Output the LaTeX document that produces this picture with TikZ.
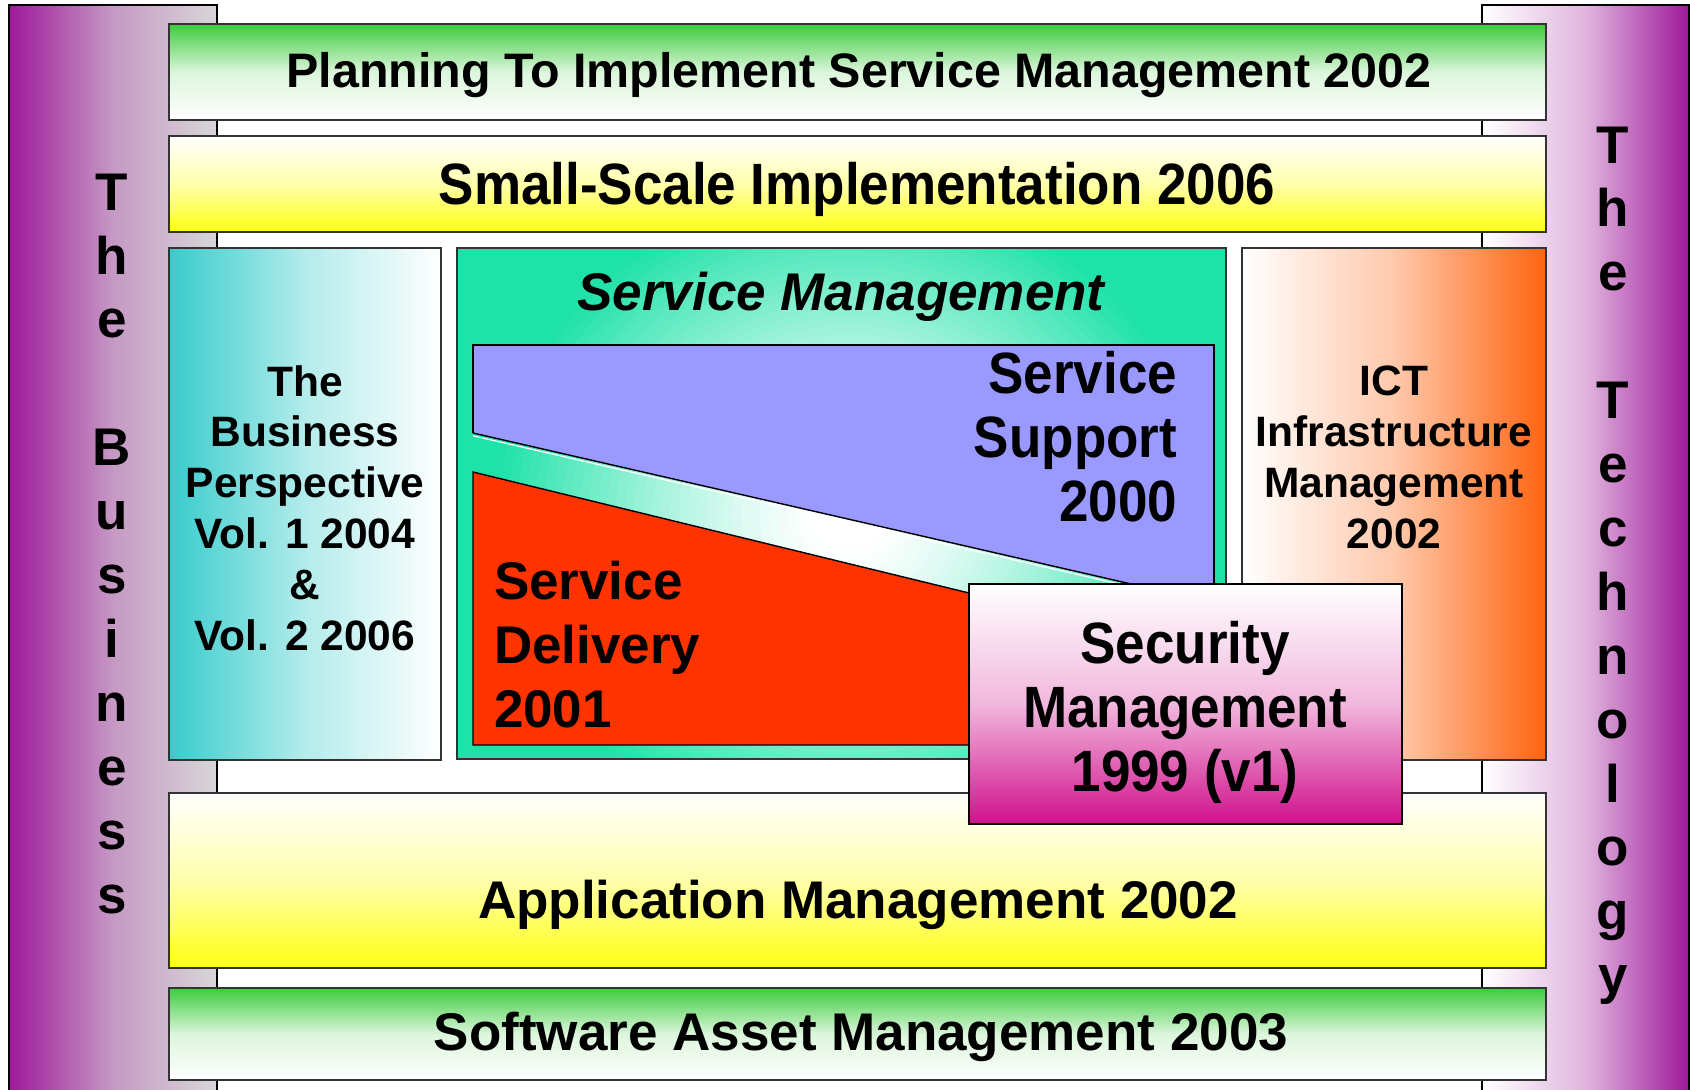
\documentclass[tikz,border=0pt]{standalone}
\usepackage{fontspec}
\setmainfont{Liberation Sans}
\usepackage{graphicx}
\definecolor{bizpurple}{RGB}{158,24,154}
\definecolor{bizgrey}{RGB}{216,214,216}
\definecolor{plangreen}{RGB}{60,204,60}
\definecolor{impyellow}{RGB}{255,255,16}
\definecolor{bpcyan}{RGB}{56,204,204}
\definecolor{ictorange}{RGB}{255,100,16}
\definecolor{ssblue}{RGB}{153,153,255}
\definecolor{sdred}{RGB}{255,51,0}
\definecolor{smteal}{RGB}{30,226,168}
\definecolor{secmagenta}{RGB}{208,16,140}
\newcommand{\tallx}[1]{\scalebox{1}[1.1]{#1}}
\begin{document}
\begin{tikzpicture}[x=1pt,y=-1pt,
  every node/.style={inner sep=0pt, outer sep=0pt},
  sidebar/.style={draw=black, line width=1.6pt, rectangle, anchor=north west},
  panel/.style={draw=black!80, line width=1.6pt, rectangle, anchor=north west},
  txt/.style={text=black, font=\bfseries\fontsize{53}{64}\selectfont},
  smalltxt/.style={text=black, font=\bfseries\fontsize{42.5}{50.8}\selectfont, align=center},
  vletters/.style={text=black, font=\bfseries\fontsize{53}{63.9}\selectfont, align=center, anchor=base},
  shapeline/.style={draw=black, line width=1.4pt}
]
\useasboundingbox (0,0) rectangle (1690,1090);
\fill[white] (0,0) rectangle (1690,1090);

% side bars
\node[sidebar, minimum width=208pt, minimum height=1090pt, left color=bizpurple, right color=bizgrey, middle color=bizgrey!68!bizpurple] (busbar) at (9,5) {};
\node[sidebar, minimum width=207pt, minimum height=1090pt, left color=white, right color=bizpurple, middle color=bizpurple!32!white] (techbar) at (1482,5) {};
% multi-line nodes: base anchor = baseline of the last line
\node[vletters] (busword) at (112,913) {T\\h\\e\\\mbox{}\\B\\u\\s\\i\\n\\e\\s\\s};
\node[vletters] (techword) at (1613,993.7) {T\\h\\e\\\mbox{}\\T\\e\\c\\h\\n\\o\\l\\o\\g\\y};

% horizontal bands
\node[panel, minimum width=1377pt, minimum height=96pt, top color=plangreen, bottom color=white, middle color=plangreen!18!white] (plan) at (169,24) {};
\node[txt, font=\bfseries\fontsize{48.4}{58}\selectfont, anchor=base] (plantext) at (859,87) {Planning To Implement Service Management 2002};

\node[panel, minimum width=1377pt, minimum height=96pt, top color=white, bottom color=impyellow, middle color=impyellow!35!white] (small) at (169,136) {};
\node[txt, anchor=base] (smalltext) at (857,204) {\tallx{Small-Scale Implementation 2006}};

% business perspective
\node[panel, minimum width=272pt, minimum height=512pt, left color=bpcyan, right color=white, middle color=bpcyan!38!white] (bp) at (169,248) {};
\node[smalltxt, anchor=base] (bptext) at (305,650) {The\\Business\\Perspective\\Vol. 1 2004\\\&\\Vol. 2 2006};

% ICT
\node[panel, minimum width=304pt, minimum height=512pt, left color=white, right color=ictorange, middle color=ictorange!35!white] (ict) at (1242,248) {};
\node[smalltxt, anchor=base] (icttext) at (1394,548) {ICT\\Infrastructure\\Management\\2002};

% service management
\node[panel, minimum width=769pt, minimum height=511pt, fill=smteal] (sm) at (457,248) {};
\begin{scope}
  \clip (sm.north west) rectangle (sm.south east);
  \foreach \k in {40,39,...,1} {
    \pgfmathsetmacro{\rr}{\k/40}
    \pgfmathsetmacro{\pp}{100*pow(max((\rr-0.1)/0.9,0.0001),1.3)}
    \fill[smteal!\pp!white] (850,515) ellipse [x radius=360*\rr, y radius=330*\rr];
  }
\end{scope}
\node[txt, font=\bfseries\itshape\fontsize{53}{64}\selectfont, anchor=base] (smtitle) at (841,310) {Service Management};

\coordinate (ssNW) at (473,345);
\coordinate (ssNE) at (1214,345);
\coordinate (ssSE) at (1214,603);
\coordinate (ssSW) at (473,433);
\fill[ssblue] (ssNW) -- (ssNE) -- (ssSE) -- (ssSW) -- cycle;
\draw[shapeline] (ssSW) -- (ssNW) -- (ssNE) -- (ssSE);
\draw[shapeline] (ssSW) -- (ssSE);
\draw[white, line width=1.2pt] ([yshift=-2.8pt]ssSW) -- ([yshift=-2.8pt]ssSE);
\node[txt, align=right, anchor=base east] (sstext) at (1177,521) {\tallx{Service}\\\tallx{Support}\\\tallx{2000}};

\coordinate (sdNW) at (473,472);
\coordinate (sdNE) at (1010,603);
\coordinate (sdSE) at (1010,745);
\coordinate (sdSW) at (473,745);
\fill[sdred] (sdNW) -- (sdNE) -- (sdSE) -- (sdSW) -- cycle;
\draw[shapeline] (sdNE) -- (sdNW) -- (sdSW) -- (sdSE);
\node[txt, align=left, anchor=base west] (sdtext) at (494,727) {Service\\Delivery\\2001};
\draw[draw=black!80, line width=1.6pt] (sm.north west) rectangle (sm.south east);

% application / software asset
\node[panel, minimum width=1377pt, minimum height=175pt, top color=white, bottom color=impyellow, middle color=impyellow!35!white] (app) at (169,793) {};
\node[txt, anchor=base] (apptext) at (858,918) {Application Management 2002};

\node[panel, minimum width=1377pt, minimum height=92pt, top color=plangreen, bottom color=white, middle color=plangreen!18!white] (sam) at (169,988) {};
\node[txt, anchor=base] (samtext) at (861,1050) {Software Asset Management 2003};

% security
\node[panel, draw=black, minimum width=433pt, minimum height=240pt, top color=white, bottom color=secmagenta, middle color=secmagenta!30!white] (sec) at (969,584) {};
\node[txt, align=center, anchor=base] (sectext) at (1185,791) {\tallx{Security}\\\tallx{Management}\\\tallx{1999 (v1)}};
\end{tikzpicture}
\end{document}
